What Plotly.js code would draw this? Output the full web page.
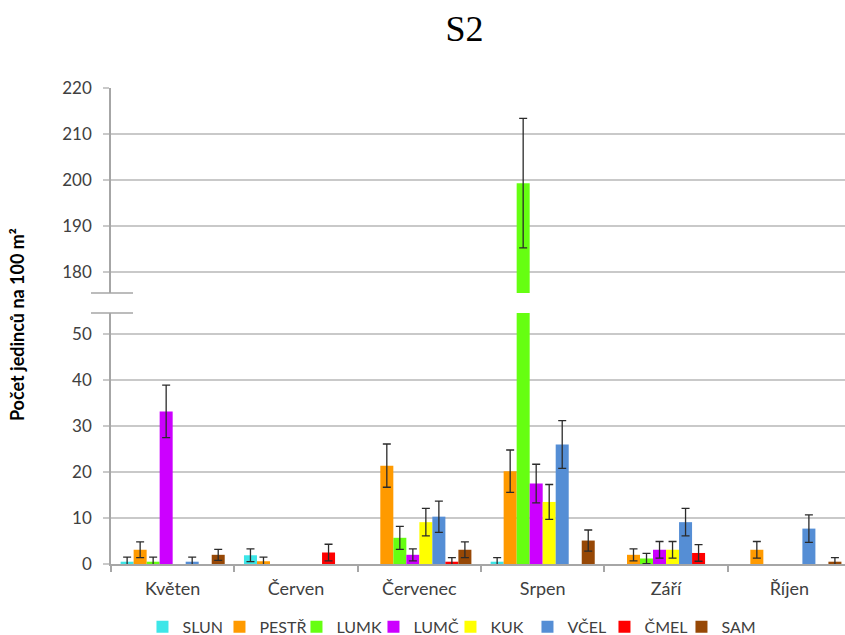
<!DOCTYPE html>
<html>
<head>
<meta charset="utf-8">
<script src="https://cdn.plot.ly/plotly-3.0.1.min.js"></script>
<style>
  html, body { margin: 0; padding: 0; background: #ffffff; }
  #chart { width: 845px; height: 635px; }
</style>
</head>
<body>
<div id="chart"></div>
<script>
// Months of sampling
const months = ['Květen', 'Červen', 'Červenec', 'Srpen', 'Září', 'Říjen'];

// Group names, in legend order
const groups = ['SLUN', 'PESTŘ', 'LUMK', 'LUMČ', 'KUK', 'VČEL', 'ČMEL', 'SAM'];

// Mean counts per 100 m² for each group (one value per month)
const SLUN  = [0.5, 1.9, 0,    0.5,   0,   0];
const PESTR = [3.1, 0.6, 21.4, 20.2,  2.0, 3.1];
const LUMK  = [0.5, 0,   5.7,  199.3, 1.2, 0];
const LUMC  = [33.2, 0,  2.0,  17.5,  3.1, 0];
const KUK   = [0,   0,   9.1,  13.5,  3.1, 0];
const VCEL  = [0.5, 0,   10.3, 26.0,  9.1, 7.7];
const CMEL  = [0,   2.5, 0.5,  0,     2.4, 0];
const SAM   = [2.0, 0,   3.1,  5.1,   0,   0.5];

// Error (± SE) for each group; null where nothing was recorded
const SLUN_err  = [1.0, 1.4, null, 0.9,  null, null];
const PESTR_err = [1.7, 0.9, 4.7,  4.6,  1.3,  1.8];
const LUMK_err  = [1.0, null, 2.5, 14.1, 1.1,  null];
const LUMC_err  = [5.7, null, 1.3, 4.2,  1.8,  null];
const KUK_err   = [null, null, 3.0, 3.8, 1.8,  null];
const VCEL_err  = [1.0, null, 3.4, 5.2,  3.0,  3.0];
const CMEL_err  = [null, 1.8, 0.9, null, 1.8,  null];
const SAM_err   = [1.2, null, 1.7, 2.3,  null, 0.9];

const values = [SLUN, PESTR, LUMK, LUMC, KUK, VCEL, CMEL, SAM];
const errors = [SLUN_err, PESTR_err, LUMK_err, LUMC_err, KUK_err, VCEL_err, CMEL_err, SAM_err];
const colors = ['#3DE6E8', '#FF9A00', '#66FF11', '#CC00FF', '#FFFF00', '#558ED5', '#FF0000', '#974806'];

// Broken value axis: lower panel 0–54.6, upper panel 175.4–220
const LOW_RANGE = [0, 54.6];
const HIGH_RANGE = [175.4, 220];
const LOW_DOMAIN = [0, 0.5273];
const HIGH_DOMAIN = [0.5693, 1];

const traces = [];
['y', 'y2'].forEach(function (ax) {
  groups.forEach(function (name, i) {
    traces.push({
      type: 'bar',
      name: name,
      x: months,
      y: values[i],
      xaxis: 'x',
      yaxis: ax,
      showlegend: ax === 'y',
      legendgroup: name,
      marker: { color: colors[i] },
      error_y: {
        type: 'data',
        array: errors[i].map(function (e) { return e === null ? NaN : e; }),
        visible: true,
        color: '#2b2b2b',
        thickness: 1.3,
        width: 4
      },
      hoverinfo: 'x+y+name'
    });
  });
});

const axisGray = '#A6A6A6';
const gridGray = '#C9C9C9';
const tickFont = { family: 'Lato, "Open Sans", sans-serif', size: 17, color: '#404040' };

function valueAxis(domain, range) {
  return {
    domain: domain,
    range: range,
    anchor: 'x',
    tick0: 0,
    dtick: 10,
    ticks: 'outside',
    ticklen: 6,
    tickcolor: gridGray,
    tickwidth: 1.5,
    showgrid: true,
    gridcolor: gridGray,
    gridwidth: 1.5,
    showline: true,
    linecolor: axisGray,
    linewidth: 1.5,
    zeroline: false,
    tickfont: tickFont,
    ticklabelstandoff: 8,
    fixedrange: true
  };
}

const breakLine = function (yPaper) {
  return {
    type: 'line', xref: 'paper', yref: 'paper',
    x0: -0.0273, x1: 0.030, y0: yPaper, y1: yPaper,
    line: { color: axisGray, width: 1.5 }
  };
};

const layout = {
  width: 845,
  height: 635,
  autosize: false,
  margin: { l: 111, r: 0, t: 88, b: 71, pad: 0, autoexpand: false },
  paper_bgcolor: '#ffffff',
  plot_bgcolor: '#ffffff',
  barmode: 'group',
  bargap: 0.156,
  bargroupgap: 0,
  title: {
    text: 'S2',
    font: { family: '"Liberation Serif", "Times New Roman", serif', size: 36, color: '#000000' },
    xref: 'paper',
    x: 0.4816,
    xanchor: 'center',
    yref: 'container',
    y: 0.956,
    yanchor: 'middle'
  },
  xaxis: {
    type: 'category',
    range: [-0.5, 5.451],
    anchor: 'y',
    tickson: 'boundaries',
    ticks: 'outside',
    ticklen: 6,
    tickcolor: axisGray,
    tickwidth: 1.5,
    showline: true,
    linecolor: axisGray,
    linewidth: 1.5,
    showgrid: false,
    zeroline: false,
    tickfont: { family: 'Lato, "Open Sans", sans-serif', size: 18, color: '#404040' },
    ticklabelstandoff: 8,
    fixedrange: true
  },
  yaxis: valueAxis(LOW_DOMAIN, LOW_RANGE),
  yaxis2: valueAxis(HIGH_DOMAIN, HIGH_RANGE),
  shapes: [breakLine(HIGH_DOMAIN[0]), breakLine(LOW_DOMAIN[1])],
  annotations: [{
    text: 'Počet jedinců na 100 m²',
    xref: 'paper', yref: 'paper',
    x: -0.128, y: 0.502,
    xanchor: 'center', yanchor: 'middle',
    textangle: -90,
    showarrow: false,
    font: { family: 'Lato, "Open Sans", sans-serif', size: 18, color: '#000000', weight: 700 }
  }],
  legend: {
    orientation: 'h',
    x: 0.4625,
    xanchor: 'center',
    y: -0.132,
    yanchor: 'middle',
    entrywidth: 32,
    entrywidthmode: 'pixels',
    font: { family: 'Lato, "Open Sans", sans-serif', size: 16, color: '#404040' },
    bgcolor: 'rgba(0,0,0,0)',
    traceorder: 'normal'
  },
  showlegend: true
};

Plotly.newPlot('chart', traces, layout, { displayModeBar: false, staticPlot: false, responsive: false });
</script>
</body>
</html>
